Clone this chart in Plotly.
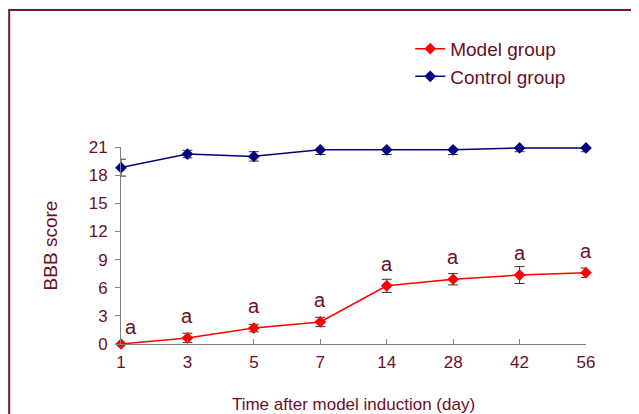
import plotly.graph_objects as go

days = ["1", "3", "5", "7", "14", "28", "42", "56"]
model_mean = [0.0, 0.65, 1.7, 2.35, 6.2, 6.9, 7.35, 7.6]
model_err = [0.0, 0.5, 0.4, 0.5, 0.7, 0.6, 0.9, 0.5]
control_mean = [18.8, 20.25, 20.0, 20.7, 20.7, 20.7, 20.9, 20.9]
control_err = [0.9, 0.4, 0.5, 0.5, 0.5, 0.5, 0.4, 0.4]
sig_labels = ["a", "a", "a", "a", "a", "a", "a", "a"]
y_ticks = [0, 3, 6, 9, 12, 15, 18, 21]

TXT = "#6B0F1F"
FONT = "Liberation Sans, Arial, sans-serif"
xs = list(range(len(days)))

fig = go.Figure()
fig.add_trace(go.Scatter(
    x=xs, y=model_mean, name="Model group", mode="lines+markers",
    line=dict(color="#FF0000", width=1.5),
    marker=dict(symbol="diamond", size=9, color="#FF0000"),
    error_y=dict(type="data", array=model_err, color="#333333", thickness=1, width=5),
    cliponaxis=False,
))
fig.add_trace(go.Scatter(
    x=xs, y=control_mean, name="Control group", mode="lines+markers",
    line=dict(color="#000080", width=1.5),
    marker=dict(symbol="diamond", size=9, color="#000080"),
    error_y=dict(type="data", array=control_err, color="#333333", thickness=1, width=5),
    cliponaxis=False,
))

for i, (v, lab) in enumerate(zip(model_mean, sig_labels)):
    fig.add_annotation(x=i, y=v, text=lab, showarrow=False,
                       xshift=10 if i == 0 else 0, yshift=17 if i == 0 else 22,
                       font=dict(size=20, color=TXT, family=FONT))

fig.add_shape(type="rect", xref="paper", yref="paper",
              x0=-0.2405, x1=1.25, y0=-0.6, y1=1.695,
              line=dict(color="#7B1A2A", width=2), fillcolor="rgba(0,0,0,0)", layer="below")

fig.update_layout(
    width=639, height=414,
    margin=dict(l=113, r=61, t=139, b=78),
    paper_bgcolor="white", plot_bgcolor="white",
    font=dict(family=FONT, color=TXT, size=17),
    showlegend=True,
    legend=dict(x=0.622, y=1.595, xanchor="left", yanchor="top",
                font=dict(size=19, color=TXT, family=FONT),
                bgcolor="rgba(0,0,0,0)", tracegroupgap=0, itemwidth=30),
    xaxis=dict(
        tickmode="array", tickvals=xs, ticktext=days, range=[0, 7],
        showgrid=False, zeroline=False, showline=True, linecolor="#808080", linewidth=1,
        ticks="inside", ticklen=5, tickcolor="#808080",
        tickfont=dict(size=17, color=TXT), ticklabelstandoff=3,
        title=dict(text="Time after model induction (day)", font=dict(size=17, color=TXT), standoff=26),
    ),
    yaxis=dict(
        tickmode="array", tickvals=y_ticks, range=[0, 21],
        showgrid=False, zeroline=False, showline=True, linecolor="#808080", linewidth=1,
        ticks="outside", ticklen=5, tickcolor="#808080",
        tickfont=dict(size=17, color=TXT), ticklabelstandoff=4,
        title=dict(text="BBB score", font=dict(size=19, color=TXT), standoff=26),
    ),
)

fig.write_html("out.html")
